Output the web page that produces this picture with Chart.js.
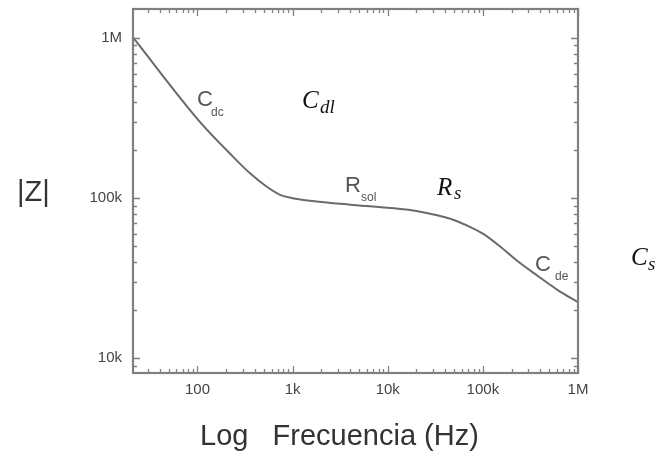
<!DOCTYPE html>
<html>
<head>
<meta charset="utf-8">
<script src="https://cdn.jsdelivr.net/npm/chart.js@4/dist/chart.umd.min.js"></script>
<style>
  html, body { margin: 0; padding: 0; background: #fff; }
  #wrap { width: 661px; height: 457px; }
</style>
</head>
<body>
<div id="wrap"><canvas id="c" width="661" height="457"></canvas></div>
<script>
// ---- Data ----
const freqHz = [21, 106, 236, 357, 514, 738, 1000, 1530, 4000, 10000, 22000, 45500, 68700, 100000, 153000, 231000, 375000, 608000, 1000000];
const impedanceOhm = [1010000, 300000, 182000, 143000, 120000, 105000, 100000, 96400, 91200, 87300, 82400, 74500, 67400, 60100, 49800, 40500, 32800, 26800, 22400];

const xTickValues = [100, 1000, 10000, 100000, 1000000];
const xTickLabels = ['100', '1k', '10k', '100k', '1M'];
const yTickValues = [10000, 100000, 1000000];
const yTickLabels = ['10k', '100k', '1M'];
const xRange = [21, 1000000];
const yRange = [8100, 1520000];

const xTitle = 'Log   Frecuencia (Hz)';
const yTitle = '|Z|';

// Region labels: main letter + subscript
const regionLabels = [
  { main: 'C', sub: 'dc',  style: 'sans'  },
  { main: 'C', sub: 'dl',  style: 'serif' },
  { main: 'R', sub: 'sol', style: 'sans'  },
  { main: 'R', sub: 's',   style: 'serif' },
  { main: 'C', sub: 'de',  style: 'sans'  },
  { main: 'C', sub: 's',   style: 'serif' }
];

// ---- Layout / style for the annotations (pixel placement) ----
const labelPlacement = [
  { x: 197, y: 106, sx: 211, sy: 116 },
  { x: 302, y: 108, sx: 320, sy: 113 },
  { x: 345, y: 192, sx: 361, sy: 201 },
  { x: 437, y: 195, sx: 454, sy: 199 },
  { x: 535, y: 271, sx: 555, sy: 280 },
  { x: 631, y: 265, sx: 648, sy: 270 }
];

const SANS = '"Liberation Sans", Arial, Helvetica, sans-serif';
const SERIF = '"Liberation Serif", "DejaVu Serif", serif';
const AXIS_COLOR = '#808080';

function minorTicks(min, max) {
  const out = [];
  const e0 = Math.floor(Math.log10(min));
  const e1 = Math.ceil(Math.log10(max));
  for (let e = e0; e <= e1; e++) {
    for (let m = 1; m <= 9; m++) {
      const v = m * Math.pow(10, e);
      if (v >= min * 0.9999 && v <= max * 1.0001) out.push({ v, major: m === 1 });
    }
  }
  return out;
}

const framePlugin = {
  id: 'frameTicks',
  afterDatasetsDraw(chart) {
    const ctx = chart.ctx;
    const { left, right, top, bottom } = chart.chartArea;
    const xs = chart.scales.x, ys = chart.scales.y;
    ctx.save();
    ctx.strokeStyle = AXIS_COLOR;
    ctx.lineWidth = 1.3;
    ctx.beginPath();
    minorTicks(xs.min, xs.max).forEach(t => {
      const px = Math.round(xs.getPixelForValue(t.v)) + 0.5;
      const len = t.major ? 7 : 4;
      ctx.moveTo(px, bottom); ctx.lineTo(px, bottom - len);
      ctx.moveTo(px, top); ctx.lineTo(px, top + len);
    });
    minorTicks(ys.min, ys.max).forEach(t => {
      const py = Math.round(ys.getPixelForValue(t.v)) + 0.5;
      const len = t.major ? 7 : 4;
      ctx.moveTo(left, py); ctx.lineTo(left + len, py);
      ctx.moveTo(right, py); ctx.lineTo(right - len, py);
    });
    ctx.stroke();
    ctx.lineWidth = 2.2;
    ctx.strokeRect(left, top, right - left, bottom - top);
    ctx.restore();
  },
  afterDraw(chart) {
    const ctx = chart.ctx;
    ctx.save();
    // y title
    ctx.fillStyle = '#333';
    ctx.font = '29px ' + SANS;
    ctx.textAlign = 'left';
    ctx.textBaseline = 'middle';
    ctx.fillText(yTitle, 17, 193);
    // x title
    ctx.font = '29px ' + SANS;
    ctx.textBaseline = 'alphabetic';
    ctx.fillText(xTitle, 200, 445);
    // region labels
    regionLabels.forEach((l, i) => {
      const p = labelPlacement[i];
      if (l.style === 'sans') {
        ctx.fillStyle = '#555';
        ctx.font = '22px ' + SANS;
        ctx.fillText(l.main, p.x, p.y);
        ctx.font = '12px ' + SANS;
        ctx.fillText(l.sub, p.sx, p.sy);
      } else {
        ctx.fillStyle = '#111';
        ctx.font = 'italic 25px ' + SERIF;
        ctx.fillText(l.main, p.x, p.y);
        ctx.font = 'italic 19px ' + SERIF;
        ctx.fillText(l.sub, p.sx, p.sy);
      }
    });
    ctx.restore();
  }
};

new Chart(document.getElementById('c'), {
  type: 'line',
  data: {
    datasets: [{
      data: freqHz.map((f, i) => ({ x: f, y: impedanceOhm[i] })),
      borderColor: '#6a6a6a',
      borderWidth: 2,
      pointRadius: 0,
      fill: false,
      cubicInterpolationMode: 'monotone'
    }]
  },
  options: {
    responsive: false,
    animation: false,
    devicePixelRatio: 1,
    layout: { padding: { left: 0, top: 9, right: 83, bottom: 0 } },
    plugins: { legend: { display: false }, tooltip: { enabled: false } },
    scales: {
      x: {
        type: 'logarithmic',
        min: xRange[0], max: xRange[1],
        grid: { display: false, drawTicks: false },
        border: { display: false },
        afterBuildTicks: s => { s.ticks = xTickValues.map(v => ({ value: v })); },
        afterFit: s => { s.height = 84; s.paddingLeft = 0; s.paddingRight = 0; },
        ticks: {
          autoSkip: false, maxRotation: 0, padding: 8,
          color: '#444', font: { family: SANS, size: 15 },
          callback: v => { const i = xTickValues.indexOf(v); return i >= 0 ? xTickLabels[i] : ''; }
        }
      },
      y: {
        type: 'logarithmic',
        min: yRange[0], max: yRange[1],
        grid: { display: false, drawTicks: false },
        border: { display: false },
        afterBuildTicks: s => { s.ticks = yTickValues.map(v => ({ value: v })); },
        afterFit: s => { s.width = 133; s.paddingTop = 0; s.paddingBottom = 0; },
        ticks: {
          autoSkip: false, padding: 11,
          color: '#444', font: { family: SANS, size: 15 },
          callback: v => { const i = yTickValues.indexOf(v); return i >= 0 ? yTickLabels[i] : ''; }
        }
      }
    }
  },
  plugins: [framePlugin]
});
</script>
</body>
</html>
